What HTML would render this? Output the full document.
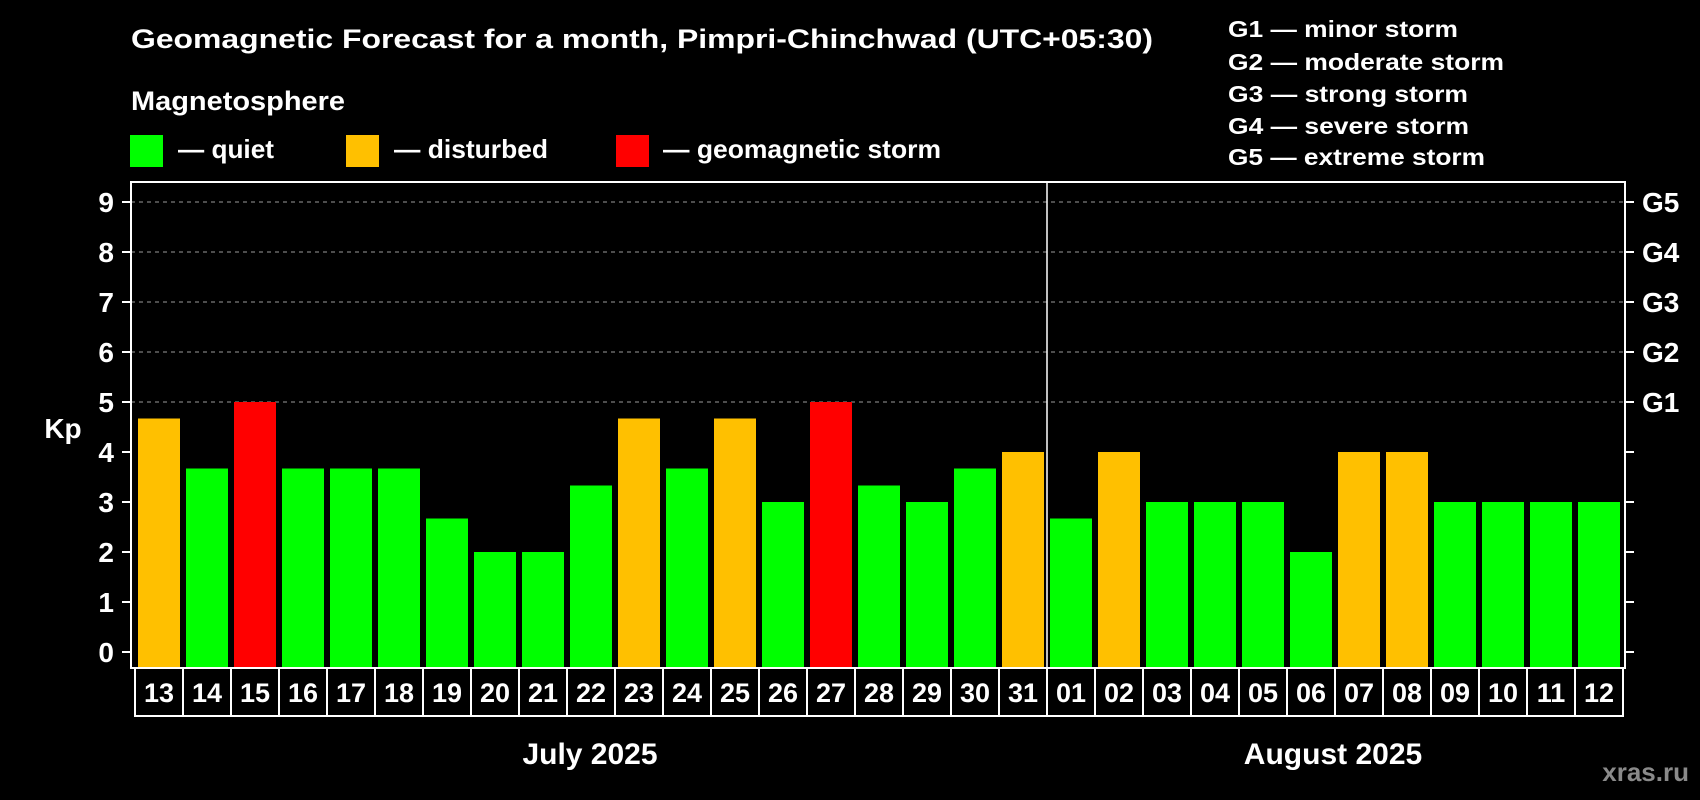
<!DOCTYPE html>
<html><head><meta charset="utf-8"><style>
html,body{margin:0;padding:0;background:#000;}
svg{display:block;font-family:"Liberation Sans",Arial,sans-serif;font-weight:bold;}
</style></head><body>
<svg id="chart" width="1700" height="800" viewBox="0 0 1700 800" xmlns="http://www.w3.org/2000/svg">
<rect width="1700" height="800" fill="#000"/>
<text x="131" y="48" font-size="27" fill="#fff" textLength="1022" lengthAdjust="spacingAndGlyphs">Geomagnetic Forecast for a month, Pimpri-Chinchwad (UTC+05:30)</text>
<text x="131" y="110" font-size="27" fill="#fff" textLength="214" lengthAdjust="spacingAndGlyphs">Magnetosphere</text>
<g>
<rect x="130" y="135" width="33" height="32" fill="#00ff00"/>
<text x="178" y="158" font-size="26" fill="#fff" textLength="96" lengthAdjust="spacingAndGlyphs">— quiet</text>
</g>
<g>
<rect x="346" y="135" width="33" height="32" fill="#ffc000"/>
<text x="394" y="158" font-size="26" fill="#fff" textLength="154" lengthAdjust="spacingAndGlyphs">— disturbed</text>
</g>
<g>
<rect x="616" y="135" width="33" height="32" fill="#ff0000"/>
<text x="663" y="158" font-size="26" fill="#fff" textLength="278" lengthAdjust="spacingAndGlyphs">— geomagnetic storm</text>
</g>
<g font-size="23" fill="#fff">
<text x="1228" y="37" textLength="230" lengthAdjust="spacingAndGlyphs">G1 — minor storm</text>
<text x="1228" y="70" textLength="276" lengthAdjust="spacingAndGlyphs">G2 — moderate storm</text>
<text x="1228" y="102" textLength="240" lengthAdjust="spacingAndGlyphs">G3 — strong storm</text>
<text x="1228" y="134" textLength="241" lengthAdjust="spacingAndGlyphs">G4 — severe storm</text>
<text x="1228" y="165" textLength="257" lengthAdjust="spacingAndGlyphs">G5 — extreme storm</text>
</g>
<g id="grid"></g>
<g id="bars"></g>
<g id="axes"></g>
<text x="63" y="438" font-size="28" fill="#fff" text-anchor="middle">Kp</text>
<text x="590" y="764" font-size="30" fill="#fff" text-anchor="middle">July 2025</text>
<text x="1333" y="764" font-size="30" fill="#fff" text-anchor="middle">August 2025</text>
<text x="1689" y="781" font-size="26" fill="#8a8a8a" text-anchor="end">xras.ru</text>
</svg>
<script>
const days = ["13","14","15","16","17","18","19","20","21","22","23","24","25","26","27","28","29","30","31","01","02","03","04","05","06","07","08","09","10","11","12"];
const kpValues = [4.67,3.67,5,3.67,3.67,3.67,2.67,2,2,3.33,4.67,3.67,4.67,3,5,3.33,3,3.67,4,2.67,4,3,3,3,2,4,4,3,3,3,3];
const yTicks = [0,1,2,3,4,5,6,7,8,9];
const gLabels = ["G1","G2","G3","G4","G5"];
const gLevels = [5,6,7,8,9];
const monthSplitIndex = 19;

const NS = "http://www.w3.org/2000/svg";
const plotL = 131, plotR = 1625, plotT = 182, plotB = 668;
const y0 = 652, unit = 50.0;
const slot = 48, barW = 42, firstBar = 138;
function yScale(v){ return y0 - v*unit; }
function xScale(i){ return firstBar + i*slot; }
function colorFor(v){ return v >= 5 ? "#ff0000" : (v >= 4 ? "#ffc000" : "#00ff00"); }
function mk(tag, attrs, parent){ const e=document.createElementNS(NS,tag); for(const k in attrs) e.setAttribute(k,attrs[k]); parent.appendChild(e); return e; }

const grid = document.getElementById("grid");
const bars = document.getElementById("bars");
const axes = document.getElementById("axes");

gLevels.forEach((lv, i) => {
  const l = mk("line",{x1:plotL,x2:plotR,y1:yScale(lv),y2:yScale(lv),stroke:"#9a9a9a","stroke-width":1,"stroke-dasharray":"4,4"},grid);
  
  
  const t = mk("text",{x:1642,y:yScale(lv)+10,"font-size":28,fill:"#fff"},axes);
  t.textContent = gLabels[i];
  
  
});

kpValues.forEach((v, i) => {
  const r = mk("rect",{x:xScale(i),y:yScale(v),width:barW,height:plotB-1-yScale(v),fill:colorFor(v)},bars);
  
  
});

const frame = mk("rect",{x:plotL,y:plotT,width:plotR-plotL,height:plotB-plotT,fill:"none",stroke:"#fff","stroke-width":2},axes);



const sx = xScale(monthSplitIndex) - 3;
const sep = mk("line",{x1:sx,x2:sx,y1:plotT,y2:plotB,stroke:"#fff","stroke-width":1.5},axes);



yTicks.forEach(v => {
  const y = yScale(v);
  const tl = mk("line",{x1:122,x2:plotL,y1:y,y2:y,stroke:"#fff","stroke-width":2},axes);
  
  
  const tr = mk("line",{x1:plotR,x2:1634,y1:y,y2:y,stroke:"#fff","stroke-width":2},axes);
  
  
  const t = mk("text",{x:114,y:y+10,"font-size":28,fill:"#fff","text-anchor":"end"},axes);
  t.textContent = v;
  
  
});

days.forEach((d, i) => {
  const cx = 135 + i*slot;
  const c = mk("rect",{x:cx,y:plotB,width:slot,height:48,fill:"none",stroke:"#fff","stroke-width":2},axes);
  
  
  const t = mk("text",{x:cx+slot/2,y:plotB+34,"font-size":27,fill:"#fff","text-anchor":"middle"},axes);
  t.textContent = d;
  
  
});
</script>
</body></html>
